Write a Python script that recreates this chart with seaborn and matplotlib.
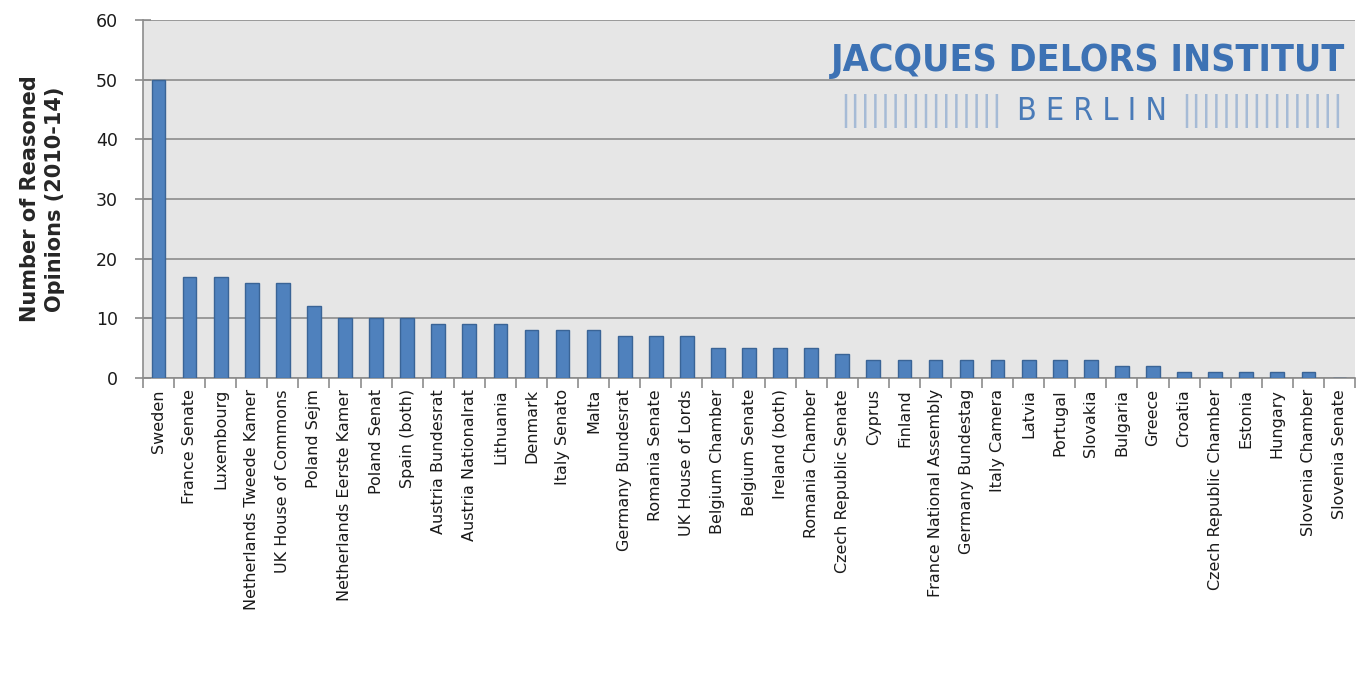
import matplotlib
matplotlib.use("Agg")
import matplotlib.pyplot as plt
import numpy as np
import pandas as pd
import seaborn as sns

# values
PARLIAMENTS = [
    "Sweden", "France Senate", "Luxembourg", "Netherlands Tweede Kamer",
    "UK House of Commons", "Poland Sejm", "Netherlands Eerste Kamer",
    "Poland Senat", "Spain (both)", "Austria Bundesrat", "Austria Nationalrat",
    "Lithuania", "Denmark", "Italy Senato", "Malta", "Germany Bundesrat",
    "Romania Senate", "UK House of Lords", "Belgium Chamber", "Belgium Senate",
    "Ireland (both)", "Romania Chamber", "Czech Republic Senate", "Cyprus",
    "Finland", "France National Assembly", "Germany Bundestag", "Italy Camera",
    "Latvia", "Portugal", "Slovakia", "Bulgaria", "Greece", "Croatia",
    "Czech Republic Chamber", "Estonia", "Hungary", "Slovenia Chamber",
    "Slovenia Senate",
]
OPINIONS = [
    50, 17, 17, 16, 16, 12, 10, 10, 10, 9, 9, 9, 8, 8, 8, 7, 7, 7,
    5, 5, 5, 5, 4, 3, 3, 3, 3, 3, 3, 3, 3, 2, 2, 1, 1, 1, 1, 1, 0,
]
Y_TICKS = [0, 10, 20, 30, 40, 50, 60]

df = pd.DataFrame({"parliament": PARLIAMENTS, "opinions": OPINIONS})

sns.set_style("white")
plt.rcParams["font.family"] = ["DejaVu Sans"]

fig = plt.figure(figsize=(13.58, 6.83), dpi=100)
ax = fig.add_axes([0.1053, 0.4466, 0.8925, 0.5241])
ax.set_facecolor("#e6e6e6")

sns.barplot(data=df, x="parliament", y="opinions", color="#4f81bd",
            width=0.44, edgecolor="#3a6496", linewidth=1.0, saturation=1,
            ax=ax, zorder=3)

ax.set_ylim(0, 60)
ax.set_xlim(-0.5, len(PARLIAMENTS) - 0.5)
ax.set_yticks(Y_TICKS)
ax.yaxis.grid(True, color="#8c8c8c", linewidth=1.2, zorder=0)
ax.set_axisbelow(True)

for side in ["top", "right"]:
    ax.spines[side].set_visible(False)
for side in ["left", "bottom"]:
    ax.spines[side].set_color("#8c8c8c")
    ax.spines[side].set_linewidth(1.2)

ax.set_xticks(range(len(PARLIAMENTS)))
ax.set_xticklabels(PARLIAMENTS, rotation=90, fontsize=11.5, color="#1a1a1a")
ax.tick_params(axis="x", length=0, pad=8)
ax.set_xticks(np.arange(-0.5, len(PARLIAMENTS)), minor=True)
ax.tick_params(axis="x", which="minor", length=7, direction="out",
               color="#8c8c8c", width=1.2, bottom=True)
ax.tick_params(axis="y", length=12, direction="inout", color="#8c8c8c",
               width=1.2, labelsize=12.5, labelcolor="#1a1a1a", pad=12,
               left=True)

ax.set_xlabel("")
ax.set_ylabel("Number of Reasoned\nOpinions (2010-14)", fontsize=15,
              fontweight="bold", labelpad=22, linespacing=1.35)

# institute logo in the top right (condensed DejaVu)
ax.text(0.992, 0.885, "JACQUES DELORS INSTITUT", transform=ax.transAxes,
        ha="right", va="center", fontsize=27, fontweight="bold",
        fontstretch="condensed", color="#3d72b4")
ax.text(0.783, 0.745, "B E R L I N", transform=ax.transAxes,
        ha="center", va="center", fontsize=23, fontstretch="condensed",
        fontweight="light", color="#4a7bb8")
ax.text(0.709, 0.745, "|" * 16, transform=ax.transAxes,
        ha="right", va="center", fontsize=24, fontstretch="condensed",
        color="#7c9fcc", alpha=0.6)
ax.text(0.857, 0.745, "|" * 16, transform=ax.transAxes,
        ha="left", va="center", fontsize=24, fontstretch="condensed",
        color="#7c9fcc", alpha=0.6)

fig.savefig("out.png", dpi=100, facecolor="white")
